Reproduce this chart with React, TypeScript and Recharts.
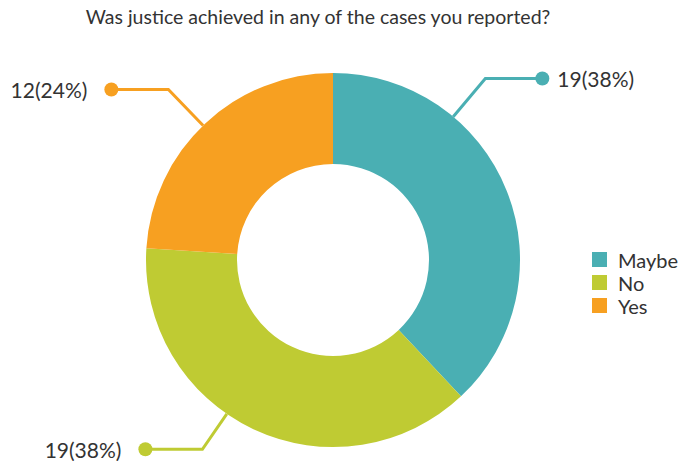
import { Legend, Pie, PieChart, Cell } from 'recharts'

const categories = ['Maybe', 'No', 'Yes']
const counts = [19, 19, 12]
const percents = [38, 38, 24]
const colors = ['#4aafb3', '#bfcb33', '#f7a021']

// where each callout leaves the ring (degrees, recharts convention)
const labelAngles = [50, -124.6, 134]

const data = categories.map((name, i) => ({ name, value: counts[i], pct: percents[i] }))

const RAD = Math.PI / 180
const font = 'Lato, "Open Sans", sans-serif'

function Callout(props: any) {
  const { cx, cy, outerRadius, index } = props
  const a = labelAngles[index] * RAD
  const cos = Math.cos(a)
  const sin = Math.sin(a)
  const x1 = cx + outerRadius * cos
  const y1 = cy - outerRadius * sin
  const elbowR = outerRadius + (index === 1 ? 43 : 50)
  const x2 = cx + elbowR * cos
  const y2 = cy - elbowR * sin
  const dir = cos >= 0 ? 1 : -1
  const x3 = x2 + dir * 57
  const color = colors[index]
  return (
    <g>
      <polyline
        points={`${x1},${y1} ${x2},${y2} ${x3},${y2}`}
        fill="none"
        stroke={color}
        strokeWidth={3}
      />
      <circle cx={x3} cy={y2} r={7} fill={color} />
      <text
        x={x3 + (dir > 0 ? 15 : -24)}
        y={y2}
        textAnchor={dir > 0 ? 'start' : 'end'}
        dominantBaseline="central"
        fontSize={21}
        fontFamily={font}
        fill="#333"
      >
        {`${counts[index]}(${percents[index]}%)`}
      </text>
    </g>
  )
}

function LegendBox() {
  return (
    <div style={{ fontFamily: font, fontSize: 20, color: '#333' }}>
      {categories.map((c, i) => (
        <div key={c} style={{ display: 'flex', alignItems: 'center', height: 23 }}>
          <span style={{ width: 15, height: 15, background: colors[i], marginRight: 11 }} />
          <span>{c}</span>
        </div>
      ))}
    </div>
  )
}

export default function App() {
  return (
    <div style={{ position: 'absolute', left: 0, top: 0, width: 682, height: 461, background: '#fff' }}>
      <PieChart width={682} height={461} margin={{ top: 0, right: 0, bottom: 0, left: 0 }}>
        <text
          x={318}
          y={16}
          textAnchor="middle"
          dominantBaseline="central"
          fontSize={19.5}
          fontFamily={font}
          fill="#333"
        >
          Was justice achieved in any of the cases you reported?
        </text>
        <Pie
          data={data}
          dataKey="value"
          nameKey="name"
          cx={333}
          cy={260}
          innerRadius={96}
          outerRadius={187}
          startAngle={90}
          endAngle={-270}
          stroke="none"
          isAnimationActive={false}
          label={Callout}
          labelLine={false}
        >
          {data.map((d, i) => (
            <Cell key={d.name} fill={colors[i]} />
          ))}
        </Pie>
        <Legend
          content={<LegendBox />}
          wrapperStyle={{ left: 592, top: 248, width: 90 }}
        />
      </PieChart>
    </div>
  )
}
